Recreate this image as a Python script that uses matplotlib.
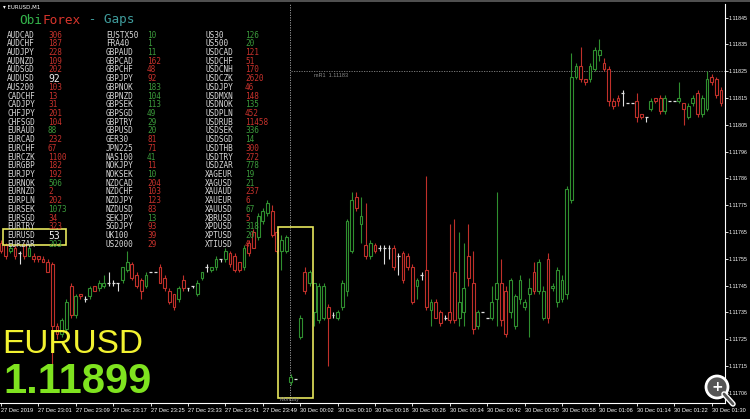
import matplotlib.pyplot as plt
from matplotlib.patches import Rectangle, Ellipse
from matplotlib.lines import Line2D
import numpy as np

# EURUSD M1 candles (one per minute, in order)
opens = [1.11761, 1.11760, 1.11758, 1.11759, 1.11757, 1.11760, 1.11756, 1.11756, 1.11756, 1.11755,
         1.11754, 1.11753, 1.11730, 1.11727, 1.11729, 1.11745, 1.11734, 1.11742, 1.11740, 1.11741,
         1.11745, 1.11744, 1.11745, 1.11746, 1.11746, 1.11746, 1.11747, 1.11751, 1.11753, 1.11749,
         1.11747, 1.11745, 1.11750, 1.11750, 1.11752, 1.11748, 1.11743, 1.11742, 1.11740, 1.11747,
         1.11744, 1.11745, 1.11742, 1.11748, 1.11752, 1.11751, 1.11752, 1.11755, 1.11755, 1.11757,
         1.11756, 1.11754, 1.11752, 1.11761, 1.11765, 1.11763, 1.11769, 1.11772, 1.11773, 1.11765,
         1.11758, 1.11758, 1.11709, 1.11710, 1.11726, 1.11750, 1.11746, 1.11735, 1.11732, 1.11733,
         1.11737, 1.11734, 1.11733, 1.11737, 1.11743, 1.11758, 1.11778, 1.11768, 1.11760, 1.11756,
         1.11760, 1.11759, 1.11759, 1.11759, 1.11759, 1.11756, 1.11757, 1.11756, 1.11752, 1.11745,
         1.11749, 1.11751, 1.11736, 1.11739, 1.11735, 1.11733, 1.11735, 1.11750, 1.11733, 1.11735,
         1.11756, 1.11746, 1.11730, 1.11735, 1.11733, 1.11733, 1.11740, 1.11746, 1.11743, 1.11735,
         1.11730, 1.11740, 1.11737, 1.11742, 1.11750, 1.11743, 1.11733, 1.11755, 1.11744, 1.11739,
         1.11740, 1.11742, 1.11777, 1.11823, 1.11827, 1.11822, 1.11822, 1.11826, 1.11831, 1.11828,
         1.11826, 1.11814, 1.11815, 1.11817, 1.11813, 1.11813, 1.11814, 1.11809, 1.11808, 1.11811,
         1.11815, 1.11815, 1.11810, 1.11814, 1.11814, 1.11814, 1.11813, 1.11808, 1.11813, 1.11817,
         1.11809, 1.11811, 1.11823, 1.11822, 1.11818]
highs = [1.11762, 1.11761, 1.11760, 1.11760, 1.11758, 1.11761, 1.11760, 1.11757, 1.11756, 1.11756,
         1.11755, 1.11754, 1.11731, 1.11733, 1.11740, 1.11746, 1.11742, 1.11742, 1.11741, 1.11745,
         1.11745, 1.11747, 1.11749, 1.11750, 1.11747, 1.11746, 1.11752, 1.11758, 1.11754, 1.11750,
         1.11748, 1.11750, 1.11750, 1.11750, 1.11753, 1.11749, 1.11744, 1.11742, 1.11745, 1.11749,
         1.11744, 1.11745, 1.11747, 1.11750, 1.11753, 1.11752, 1.11756, 1.11755, 1.11759, 1.11758,
         1.11757, 1.11754, 1.11760, 1.11762, 1.11766, 1.11772, 1.11774, 1.11777, 1.11775, 1.11766,
         1.11764, 1.11764, 1.11712, 1.11710, 1.11734, 1.11752, 1.11751, 1.11746, 1.11746, 1.11746,
         1.11738, 1.11735, 1.11736, 1.11747, 1.11770, 1.11780, 1.11780, 1.11778, 1.11776, 1.11762,
         1.11761, 1.11760, 1.11760, 1.11760, 1.11760, 1.11757, 1.11758, 1.11757, 1.11753, 1.11748,
         1.11750, 1.11786, 1.11740, 1.11740, 1.11736, 1.11734, 1.11768, 1.11770, 1.11765, 1.11761,
         1.11768, 1.11758, 1.11736, 1.11735, 1.11733, 1.11745, 1.11780, 1.11755, 1.11745, 1.11748,
         1.11742, 1.11749, 1.11740, 1.11748, 1.11754, 1.11755, 1.11745, 1.11757, 1.11746, 1.11752,
         1.11749, 1.11782, 1.11832, 1.11828, 1.11834, 1.11822, 1.11828, 1.11834, 1.11837, 1.11830,
         1.11827, 1.11815, 1.11816, 1.11818, 1.11813, 1.11813, 1.11817, 1.11809, 1.11808, 1.11815,
         1.11815, 1.11816, 1.11816, 1.11814, 1.11814, 1.11821, 1.11813, 1.11813, 1.11816, 1.11818,
         1.11816, 1.11825, 1.11824, 1.11823, 1.11819]
lows = [1.11757, 1.11755, 1.11757, 1.11755, 1.11753, 1.11755, 1.11756, 1.11754, 1.11754, 1.11754,
        1.11750, 1.11715, 1.11725, 1.11726, 1.11728, 1.11733, 1.11733, 1.11740, 1.11739, 1.11740,
        1.11743, 1.11743, 1.11744, 1.11745, 1.11745, 1.11743, 1.11746, 1.11750, 1.11747, 1.11744,
        1.11740, 1.11744, 1.11750, 1.11750, 1.11746, 1.11743, 1.11738, 1.11736, 1.11739, 1.11743,
        1.11743, 1.11744, 1.11741, 1.11747, 1.11750, 1.11750, 1.11751, 1.11754, 1.11754, 1.11752,
        1.11750, 1.11750, 1.11751, 1.11756, 1.11759, 1.11762, 1.11768, 1.11771, 1.11763, 1.11757,
        1.11751, 1.11757, 1.11708, 1.11710, 1.11725, 1.11742, 1.11745, 1.11730, 1.11731, 1.11732,
        1.11715, 1.11733, 1.11732, 1.11736, 1.11741, 1.11757, 1.11773, 1.11761, 1.11755, 1.11755,
        1.11757, 1.11758, 1.11753, 1.11755, 1.11751, 1.11749, 1.11746, 1.11751, 1.11738, 1.11740,
        1.11747, 1.11736, 1.11730, 1.11733, 1.11730, 1.11732, 1.11731, 1.11731, 1.11730, 1.11730,
        1.11745, 1.11727, 1.11729, 1.11735, 1.11733, 1.11732, 1.11730, 1.11730, 1.11726, 1.11733,
        1.11729, 1.11738, 1.11736, 1.11726, 1.11742, 1.11742, 1.11732, 1.11731, 1.11743, 1.11737,
        1.11739, 1.11740, 1.11776, 1.11822, 1.11821, 1.11820, 1.11821, 1.11825, 1.11829, 1.11825,
        1.11812, 1.11811, 1.11812, 1.11812, 1.11813, 1.11813, 1.11806, 1.11807, 1.11806, 1.11810,
        1.11813, 1.11809, 1.11809, 1.11814, 1.11814, 1.11813, 1.11805, 1.11807, 1.11812, 1.11808,
        1.11808, 1.11810, 1.11820, 1.11815, 1.11812]
closes = [1.11758, 1.11756, 1.11759, 1.11756, 1.11757, 1.11756, 1.11759, 1.11755, 1.11755, 1.11754,
          1.11750, 1.11730, 1.11727, 1.11732, 1.11739, 1.11734, 1.11741, 1.11741, 1.11740, 1.11744,
          1.11743, 1.11746, 1.11746, 1.11746, 1.11746, 1.11746, 1.11752, 1.11754, 1.11748, 1.11745,
          1.11743, 1.11749, 1.11750, 1.11750, 1.11746, 1.11744, 1.11739, 1.11737, 1.11744, 1.11744,
          1.11744, 1.11745, 1.11746, 1.11750, 1.11752, 1.11752, 1.11755, 1.11755, 1.11758, 1.11753,
          1.11751, 1.11751, 1.11759, 1.11757, 1.11759, 1.11771, 1.11773, 1.11776, 1.11764, 1.11758,
          1.11762, 1.11763, 1.11711, 1.11710, 1.11733, 1.11743, 1.11750, 1.11746, 1.11745, 1.11745,
          1.11733, 1.11734, 1.11735, 1.11746, 1.11769, 1.11777, 1.11774, 1.11771, 1.11756, 1.11761,
          1.11758, 1.11759, 1.11759, 1.11759, 1.11752, 1.11756, 1.11747, 1.11752, 1.11739, 1.11747,
          1.11749, 1.11737, 1.11739, 1.11733, 1.11731, 1.11733, 1.11732, 1.11732, 1.11739, 1.11744,
          1.11748, 1.11729, 1.11735, 1.11735, 1.11733, 1.11739, 1.11746, 1.11732, 1.11727, 1.11747,
          1.11741, 1.11747, 1.11739, 1.11744, 1.11743, 1.11754, 1.11743, 1.11733, 1.11745, 1.11751,
          1.11747, 1.11781, 1.11823, 1.11827, 1.11822, 1.11821, 1.11827, 1.11833, 1.11833, 1.11826,
          1.11814, 1.11812, 1.11814, 1.11817, 1.11813, 1.11813, 1.11808, 1.11808, 1.11808, 1.11814,
          1.11814, 1.11810, 1.11815, 1.11814, 1.11814, 1.11815, 1.11811, 1.11812, 1.11815, 1.11809,
          1.11815, 1.11822, 1.11821, 1.11816, 1.11813]

price_ticks = [1.11845 - 0.0001 * k for k in range(15)]
price_labels = ["1.11845", "1.11835", "1.11825", "1.11815", "1.11805", "1.11796", "1.11786", "1.11775",
                "1.11765", "1.11755", "1.11745", "1.11735", "1.11725", "1.11715", "1.11706"]
time_labels = ["27 Dec 2019", "27 Dec 23:01", "27 Dec 23:09", "27 Dec 23:17", "27 Dec 23:25",
               "27 Dec 23:33", "27 Dec 23:41", "27 Dec 23:49", "30 Dec 00:02", "30 Dec 00:10",
               "30 Dec 00:18", "30 Dec 00:26", "30 Dec 00:34", "30 Dec 00:42", "30 Dec 00:50",
               "30 Dec 00:58", "30 Dec 01:06", "30 Dec 01:14", "30 Dec 01:22", "30 Dec 01:30"]
monday_bar = 62
mr1_level = 1.11825

# gaps table
col1_names = ["AUDCAD", "AUDCHF", "AUDJPY", "AUDNZD", "AUDSGD", "AUDUSD", "AUS200", "CADCHF", "CADJPY",
              "CHFJPY", "CHFSGD", "EURAUD", "EURCAD", "EURCHF", "EURCZK", "EURGBP", "EURJPY", "EURNOK",
              "EURNZD", "EURPLN", "EURSEK", "EURSGD", "EURTRY", "EURUSD", "EURZAR"]
col1_gaps = ["306", "187", "228", "109", "202", "92", "103", "13", "31", "201", "104", "88", "232", "67",
             "1100", "182", "192", "506", "2", "202", "1073", "34", "323", "53", "203"]
col1_dir = "rrrrrwrrrrrgrrrrrgrrgrrwg"
col2_names = ["EUSTX50", "FRA40", "GBPAUD", "GBPCAD", "GBPCHF", "GBPJPY", "GBPNOK", "GBPNZD", "GBPSEK",
              "GBPSGD", "GBPTRY", "GBPUSD", "GER30", "JPN225", "NAS100", "NOKJPY", "NOKSEK", "NZDCAD",
              "NZDCHF", "NZDJPY", "NZDUSD", "SEKJPY", "SGDJPY", "UK100", "US2000"]
col2_gaps = ["10", "1", "11", "162", "48", "92", "183", "104", "113", "49", "29", "20", "81", "71", "41",
             "11", "10", "204", "103", "123", "83", "13", "93", "39", "29"]
col2_dir = "gggrrrggggggrrgrgrrrrgrrr"
col3_names = ["US30", "US500", "USDCAD", "USDCHF", "USDCNH", "USDCZK", "USDJPY", "USDMXN", "USDNOK",
              "USDPLN", "USDRUB", "USDSEK", "USDSGD", "USDTHB", "USDTRY", "USDZAR", "XAGEUR", "XAGUSD",
              "XAUAUD", "XAUEUR", "XAUUSD", "XBRUSD", "XPDUSD", "XPTUSD", "XTIUSD"]
col3_gaps = ["126", "20", "121", "51", "170", "2620", "46", "148", "135", "452", "11458", "336", "14",
             "300", "272", "778", "19", "21", "237", "6", "67", "5", "318", "20", "4"]
col3_dir = "ggrrrrrrgrrggrrgggrrgrggr"

symbol = "EURUSD"
bid = "1.11899"

W, H = 750, 419
GREEN = "#2f8f2f"
RED = "#c0302a"
DOJI = "#e0e0e0"
YELLOW = "#e6e65c"


def fx(px):
    return px / W


def fy(py):
    return 1 - py / H


fig = plt.figure(figsize=(7.5, 4.19), dpi=100, facecolor="black")
ax = fig.add_axes([0, fy(403), fx(725), fy(4) - fy(403)])
ax.set_facecolor("black")

for i, (o, h, l, c) in enumerate(zip(opens, highs, lows, closes)):
    if c > o:
        col = GREEN
    elif c < o:
        col = RED
    else:
        col = DOJI
    ax.vlines(i, l, h, color=col, lw=0.8, zorder=2)
    if c == o:
        ax.hlines(o, i - 0.3, i + 0.3, color=col, lw=0.9, zorder=3)
    else:
        ax.add_patch(Rectangle((i - 0.3, min(o, c)), 0.6, abs(c - o), facecolor="black",
                               edgecolor=col, lw=0.8, zorder=3))

# day separator and level line
ax.axvline(monday_bar - 0.1, color="#aaaaaa", lw=0.6, ls=(0, (1.5, 1.5)), zorder=1)
ax.hlines(mr1_level, monday_bar, 160, color="#888888", lw=0.6, ls=(0, (1.5, 1.5)), zorder=1)
ax.text(monday_bar + 5, mr1_level - 0.000005, "mR1  1.11183", color="#888888", fontsize=4,
        va="top", family="Liberation Sans")

ax.set_xlim(-0.21, 154.87)
ax.set_ylim(1.117012, 1.118501)

for s in ["left", "top"]:
    ax.spines[s].set_visible(False)
for s in ["right", "bottom"]:
    ax.spines[s].set_color("white")
    ax.spines[s].set_linewidth(0.8)

ax.yaxis.tick_right()
ax.set_yticks(price_ticks)
ax.set_yticklabels(price_labels, family="Liberation Sans", fontsize=3.8)
ax.set_xticks(range(0, 8 * len(time_labels), 8))
ax.set_xticklabels(time_labels, family="Liberation Sans", fontsize=4.1, ha="left")
ax.tick_params(colors="white", length=2, width=0.6)
ax.tick_params(axis="x", pad=1.5)
ax.tick_params(axis="y", pad=0.8)

# window header
fig.text(fx(3), fy(7), "\u25be EURUSD,M1", color="white", fontsize=4, va="center",
         family="DejaVu Sans")
fig.add_artist(Line2D([0, 1], [fy(1), fy(1)], color="#606060", lw=1.2))

# indicator title
cw = 7.69
fig.text(fx(19), fy(20), "Obi", color="#33b24a", fontsize=9.2, family="DejaVu Sans Mono", va="center")
fig.text(fx(19 + 3 * cw), fy(20), "Forex", color="#d8352c", fontsize=9.2, family="DejaVu Sans Mono",
         va="center")
fig.text(fx(19 + 8 * cw), fy(20), " - Gaps", color="#3f9c9c", fontsize=9.2, family="DejaVu Sans Mono",
         va="center")

dir_colors = {"r": "#c8322c", "g": "#3b9a3b", "w": "#f0f0f0"}
columns = [(col1_names, col1_gaps, col1_dir, 7, 48),
           (col2_names, col2_gaps, col2_dir, 106, 147),
           (col3_names, col3_gaps, col3_dir, 205, 245)]
for names, gaps, dirs, xn, xv in columns:
    for r, (n, g, d) in enumerate(zip(names, gaps, dirs)):
        yy = 35 + r * 8.72
        fig.text(fx(xn), fy(yy), n, color="#d8d8d8", fontsize=5.6, family="DejaVu Sans Mono",
                 va="center")
        fig.text(fx(xv), fy(yy), g, color=dir_colors[d], fontsize=7 if d == "w" else 5.6,
                 family="DejaVu Sans Mono", va="center")

# highlight boxes
fig.add_artist(Rectangle((fx(3), fy(245)), fx(63), fy(229) - fy(245), fill=False,
                         edgecolor=YELLOW, lw=1.2))
fig.add_artist(Rectangle((fx(278), fy(398)), fx(35), fy(227) - fy(398), fill=False,
                         edgecolor=YELLOW, lw=1.2))
fig.text(fx(279), fy(399), "Monday", color="#8a8a8a", fontsize=4, family="Liberation Sans", va="center")

# big symbol / price
fig.text(fx(2), fy(353), symbol, color="#f2f230", fontsize=24, family="Liberation Sans",
         va="baseline")
fig.text(fx(3), fy(393), bid, color="#7fe31f", fontsize=30, family="Liberation Sans",
         weight="bold", va="baseline")

# zoom icon
fig.add_artist(Line2D([fx(724), fx(733)], [fy(394), fy(404)], color="white", lw=4,
                      solid_capstyle="round"))
fig.add_artist(Line2D([fx(724), fx(733)], [fy(394), fy(404)], color="#555555", lw=2,
                      solid_capstyle="round"))
fig.add_artist(Ellipse((fx(717), fy(387)), 2 * 11 / W, 2 * 11 / H, facecolor="#555555",
                       edgecolor="white", lw=2))
fig.text(fx(717), fy(387), "+", color="white", fontsize=10, weight="bold", ha="center",
         va="center", family="DejaVu Sans")

fig.savefig("out.png", dpi=100, facecolor="black")
